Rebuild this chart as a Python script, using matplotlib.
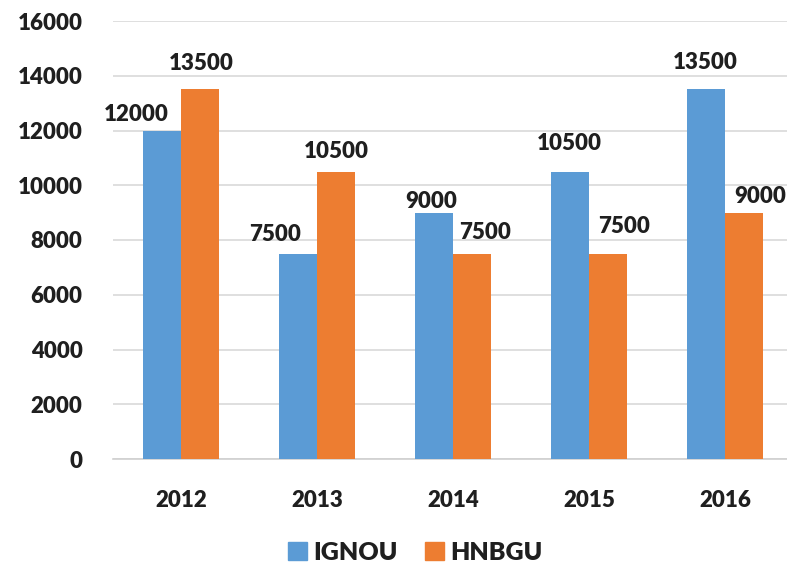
import matplotlib
matplotlib.use("Agg")
import matplotlib.pyplot as plt
import numpy as np
from matplotlib.patches import Patch

years = ["2012", "2013", "2014", "2015", "2016"]
ignou = [12000, 7500, 9000, 10500, 13500]
hnbgu = [13500, 10500, 7500, 7500, 9000]
yticks = [0, 2000, 4000, 6000, 8000, 10000, 12000, 14000, 16000]

# label offsets in pixels (dx, dy) relative to bar top centre
ignou_off = [(-25, 16), (-23, 19), (-3, 11), (0, 28), (0, 27)]
hnbgu_off = [(1, 26), (0, 20), (13, 21), (16, 27), (16, 16)]

BLUE = "#5B9BD5"
ORANGE = "#ED7D31"
TXT = "#1f1f1f"
FONT = "Lato"
FS = 16
WT = "heavy"

fig = plt.figure(figsize=(7.87, 5.70), dpi=100)
W, H = 787, 570
ax = fig.add_axes([113 / W, 1 - 459 / H, (793 - 113) / W, (459 - 21) / H])

x = np.arange(len(years))
bw = 0.283
b1 = ax.bar(x - bw / 2, ignou, bw, color=BLUE, zorder=3)
b2 = ax.bar(x + bw / 2, hnbgu, bw, color=ORANGE, zorder=3)

for bars, vals, offs in ((b1, ignou, ignou_off), (b2, hnbgu, hnbgu_off)):
    for r, v, (dx, dy) in zip(bars, vals, offs):
        ax.annotate(str(v), (r.get_x() + r.get_width() / 2, v),
                    xytext=(dx, dy), textcoords="offset pixels",
                    ha="center", va="center", fontsize=FS,
                    fontweight=WT, family=FONT, color=TXT,
                    annotation_clip=False, zorder=5)

ax.set_xlim(-0.5, len(years) - 0.5)
ax.set_ylim(0, 16000)
ax.set_yticks(yticks)
ax.set_yticklabels([str(t) for t in yticks])
ax.set_xticks(x)
ax.set_xticklabels(years)
for lab in ax.get_xticklabels() + ax.get_yticklabels():
    lab.set_fontfamily(FONT)
    lab.set_fontweight(WT)
    lab.set_fontsize(FS)
    lab.set_color(TXT)
ax.tick_params(axis="y", length=0, pad=22)
ax.tick_params(axis="x", length=0, pad=22)
ax.yaxis.grid(True, color="#D9D9D9", linewidth=1.2, zorder=0)
ax.set_axisbelow(True)
for s in ["top", "right", "left"]:
    ax.spines[s].set_visible(False)
ax.spines["bottom"].set_color("#D0D0D0")
ax.spines["bottom"].set_linewidth(1.2)

handles = [Patch(color=BLUE, label="IGNOU"), Patch(color=ORANGE, label="HNBGU")]
leg = fig.legend(handles=handles, loc="center", bbox_to_anchor=(415 / W, 1 - 553 / H),
                 ncol=2, frameon=False, handlelength=0.75, handleheight=0.75,
                 handletextpad=0.25, columnspacing=1.1,
                 prop={"family": FONT, "weight": WT, "size": 18})
for t in leg.get_texts():
    t.set_color(TXT)

fig.savefig("out.png", dpi=100)
